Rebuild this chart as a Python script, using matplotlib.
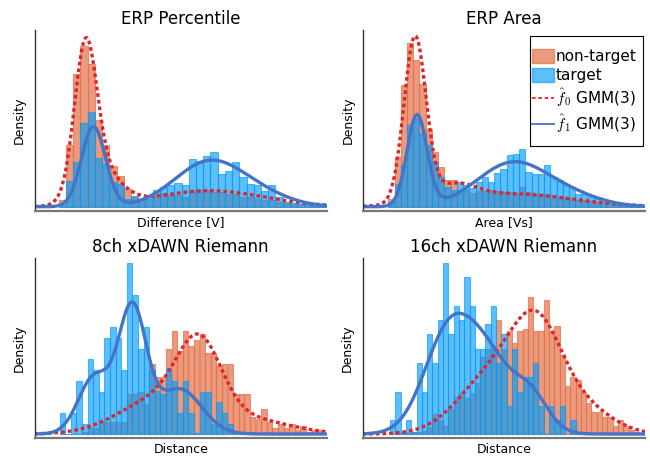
import matplotlib

matplotlib.use("Agg")
import matplotlib.pyplot as plt
import numpy as np
from matplotlib.lines import Line2D
from matplotlib.patches import Patch, Rectangle

plt.rcParams["font.family"] = ["DejaVu Sans"]
plt.rcParams["mathtext.fontset"] = "cm"

# ---- data (arbitrary units: x and density scales are not labelled) ----
# ERP Percentile
pct_bin_start, pct_bin_width = 24.3, 7.22
pct_nontarget = [7, 62, 133, 161, 143, 87, 62, 41, 31, 18, 10, 8, 8, 12, 14, 12, 12, 10, 17,
                 17, 17, 15, 15, 13, 13, 10, 10, 8, 7, 7, 5, 4, 3, 3, 2, 2, 1]
pct_target = [2, 26, 45, 84, 95, 49, 43, 25, 23, 8, 11, 8, 11, 17, 20, 22, 24, 22, 48,
              46, 51, 55, 33, 36, 45, 30, 23, 22, 16, 22, 10, 5, 4, 3, 3, 3, 1]
pct_gmm0 = {"w": [3860, 1755, 2206], "mu": [51, 65, 175], "sd": [11, 20, 55]}
pct_gmm1 = {"w": [2406, 3948, 602], "mu": [59, 175, 230], "sd": [12, 35, 30]}

# ERP Area
area_bin_start, area_bin_width = 25.6, 6.23
area_nontarget = [8, 50, 122, 164, 147, 123, 78, 55, 40, 27, 27, 17, 17, 14, 16, 16, 17, 16, 15,
                  15, 14, 20, 15, 13, 13, 13, 12, 10, 10, 9, 7, 7, 6, 5, 5, 4, 3, 3, 2, 2, 1]
area_target = [5, 23, 42, 82, 89, 74, 62, 45, 30, 20, 17, 25, 22, 19, 25, 30, 25, 34, 38,
               52, 53, 58, 35, 33, 33, 42, 30, 27, 23, 20, 13, 13, 10, 8, 5, 3, 3, 2, 2, 1, 1]
area_gmm0 = {"w": [4549, 752, 1955], "mu": [52.3, 92.3, 147.3], "sd": [11, 20, 60]}
area_gmm1 = {"w": [2281, 3970, 602], "mu": [54.3, 150.3, 212.3], "sd": [10, 36, 30]}

# 8ch xDAWN Riemann
x8_bin_start, x8_bin_width = 25.0, 5.6
x8_nontarget = [0, 0, 0, 0, 2, 6, 6, 12, 12, 12, 12, 12, 40, 40, 42, 30, 70, 57, 57, 85, 103,
                83, 103, 88, 94, 100, 81, 81, 68, 70, 70, 40, 40, 40, 17, 15, 25, 12, 6, 10,
                6, 10, 4, 8, 2, 4, 4]
x8_target = [21, 0, 21, 53, 10, 75, 64, 42, 96, 107, 96, 64, 171, 139, 85, 107, 64, 43, 40, 66,
             53, 21, 53, 21, 1, 42, 42, 10, 32, 21, 10, 0, 0, 0, 0, 0, 0, 0, 0, 0,
             0, 0, 0, 0, 0, 0, 0]
x8_gmm0 = {"w": [3970, 3509, 1404], "mu": [165, 125, 215], "sd": [22, 40, 40]}
x8_gmm1 = {"w": [4351, 2482, 2286], "mu": [97.7, 145, 60], "sd": [14, 22, 16]}

# 16ch xDAWN Riemann
x16_bin_start, x16_bin_width = 27.5, 5.3
x16_nontarget = [0, 0, 1, 1, 2, 2, 3, 7, 20, 14, 8, 25, 37, 41, 36, 41, 51, 77, 85, 85, 114,
                 85, 103, 91, 103, 105, 137, 103, 103, 134, 103, 108, 79, 48, 57, 54, 42, 31,
                 22, 22, 17, 17, 8, 14, 8, 4, 2, 1]
x16_target = [14, 42, 2, 14, 2, 71, 42, 100, 71, 114, 171, 100, 128, 114, 157, 128, 85, 85,
              110, 128, 71, 100, 28, 85, 42, 57, 57, 71, 28, 0, 28, 14, 28, 0, 14, 0, 0, 0,
              0, 0, 0, 0, 0, 0, 0, 0, 0, 0]
x16_gmm0 = {"w": [5515, 5264, 1684], "mu": [175.5, 132.5, 222.5], "sd": [25, 35, 28]}
x16_gmm1 = {"w": [6580, 3309, 1715], "mu": [87.5, 127.5, 167.5], "sd": [25, 22, 18]}

panels = [
    ("ERP Percentile", "Difference [V]", pct_bin_start, pct_bin_width, pct_nontarget, pct_target, pct_gmm0, pct_gmm1),
    ("ERP Area", "Area [Vs]", area_bin_start, area_bin_width, area_nontarget, area_target, area_gmm0, area_gmm1),
    ("8ch xDAWN Riemann", "Distance", x8_bin_start, x8_bin_width, x8_nontarget, x8_target, x8_gmm0, x8_gmm1),
    ("16ch xDAWN Riemann", "Distance", x16_bin_start, x16_bin_width, x16_nontarget, x16_target, x16_gmm0, x16_gmm1),
]

# axes boxes in pixels: left, right, top, bottom, y-baseline offset
boxes = [
    (34.5, 327, 30, 210.5, 3.8),
    (362.7, 645, 30, 210.5, 3.8),
    (34.5, 327, 258, 437.7, 3.7),
    (362.5, 645, 258, 437.7, 3.7),
]

ORANGE = "#E36F47"
BLUE = "#009AFA"
RED = "#E0242C"
LINEBLUE = "#4474C8"
W, H = 650, 459


def gmm_pdf(x, g):
    y = np.zeros_like(x)
    for w, mu, sd in zip(g["w"], g["mu"], g["sd"]):
        y += w * np.exp(-0.5 * ((x - mu) / sd) ** 2) / (sd * np.sqrt(2 * np.pi))
    return y


fig = plt.figure(figsize=(W / 100, H / 100), dpi=100)

for i, (title, xlabel, start, width, nontarget, target, g0, g1) in enumerate(panels):
    l, r, t, b, off = boxes[i]
    ax = fig.add_axes([l / W, 1 - b / H, (r - l) / W, (b - t) / H])
    xmax = r - l
    ymax = b - t - off

    edges = start + width * np.arange(len(nontarget))
    ax.bar(edges, nontarget, width=width, align="edge", color=ORANGE, alpha=0.7,
           edgecolor=ORANGE, linewidth=0.8)
    ax.bar(edges, target, width=width, align="edge", color=BLUE, alpha=0.64,
           edgecolor=BLUE, linewidth=0.8)

    xs = np.linspace(0, xmax, 600)
    ax.plot(xs, gmm_pdf(xs, g0), color=RED, linewidth=2.4, linestyle=(0, (1.1, 0.9)))
    ax.plot(xs, gmm_pdf(xs, g1), color=LINEBLUE, linewidth=2.4)

    ax.set_xlim(0, xmax)
    ax.set_ylim(-off, ymax)
    ax.set_xticks([])
    ax.set_yticks([])
    for side in ["top", "right"]:
        ax.spines[side].set_visible(False)
    ax.spines["left"].set_color("#333333")
    ax.spines["left"].set_linewidth(1.0)
    ax.spines["bottom"].set_color("#777777")
    ax.spines["bottom"].set_linewidth(1.6)

    ax.set_title(title, fontsize=12, pad=4)
    ax.set_xlabel(xlabel, fontsize=9, labelpad=4)
    ax.set_ylabel("Density", fontsize=9, labelpad=6)

    if i == 1:
        # legend frame drawn separately: tall padding above/below, tight at the sides
        ax.add_patch(Rectangle((0.5926, 0.357), 0.40, 0.609, transform=ax.transAxes,
                               facecolor="white", edgecolor="black", linewidth=0.8,
                               zorder=4, clip_on=False))
        handles = [
            Patch(facecolor=ORANGE, alpha=0.7, edgecolor=ORANGE, label="non-target"),
            Patch(facecolor=BLUE, alpha=0.64, edgecolor=BLUE, label="target"),
            Line2D([], [], color=RED, linewidth=1.3, linestyle=(0, (2, 1.5)), label=r"$\hat{f}_0$ GMM(3)"),
            Line2D([], [], color=LINEBLUE, linewidth=1.3, label=r"$\hat{f}_1$ GMM(3)"),
        ]
        leg = ax.legend(handles=handles, loc="upper right", bbox_to_anchor=(0.982, 0.911),
                        borderaxespad=0, fontsize=11, frameon=False, handlelength=1.4,
                        handleheight=1.0, handletextpad=0.15, labelspacing=0.25,
                        borderpad=0.2)
        leg.set_zorder(5)

fig.savefig("out.png", dpi=100)
